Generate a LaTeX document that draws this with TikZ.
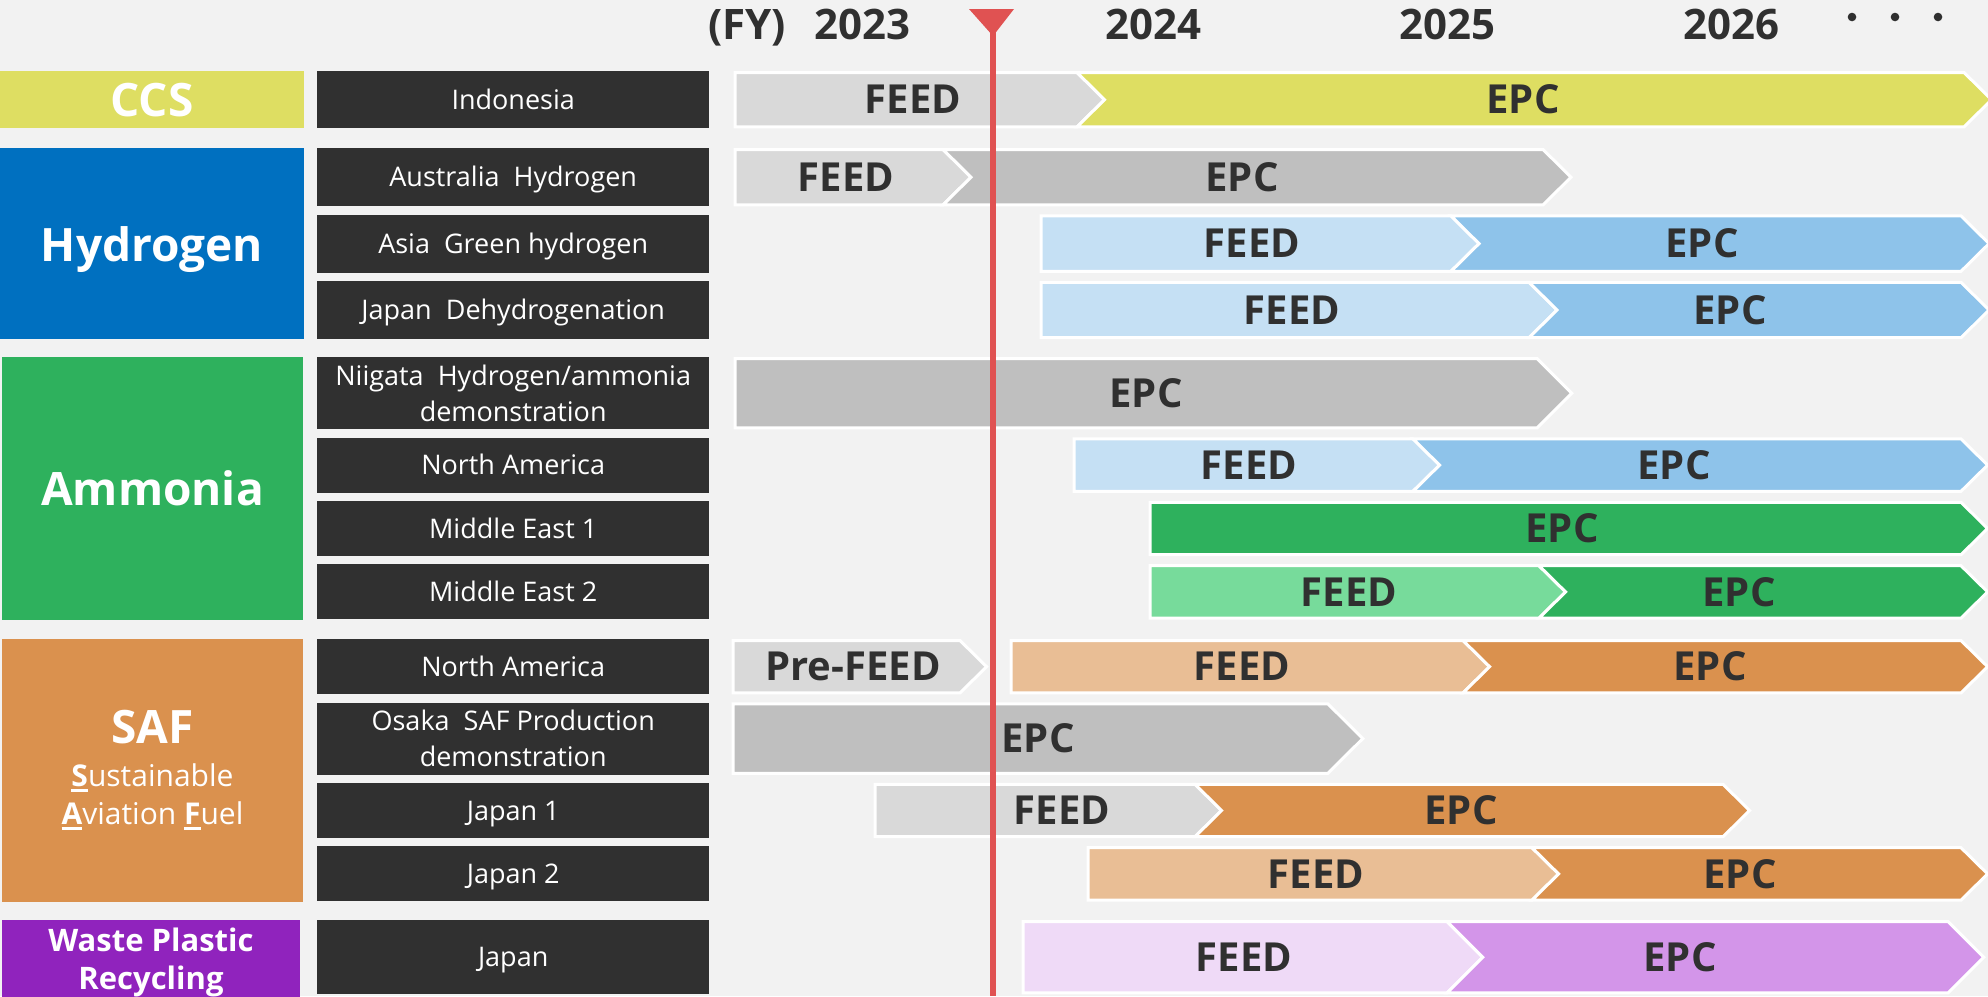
\documentclass[tikz,border=0pt]{standalone}
\usepackage{fontspec}
\setmainfont{Open Sans}
\usepackage{tikz}
\usetikzlibrary{positioning,fit,calc}

\definecolor{bgpanel}{HTML}{F2F2F2}
\definecolor{projgray}{HTML}{303030}
\definecolor{textdark}{HTML}{303030}
\definecolor{ccsyellow}{HTML}{DEDE62}
\definecolor{htwoblue}{HTML}{0070C0}
\definecolor{nhthreegreen}{HTML}{2EB15D}
\definecolor{saforange}{HTML}{DA914E}
\definecolor{wppurple}{HTML}{9023BD}
\definecolor{feedgray}{HTML}{D9D9D9}
\definecolor{epcgray}{HTML}{BFBFBF}
\definecolor{feedblue}{HTML}{C5E0F4}
\definecolor{epcblue}{HTML}{8EC3EA}
\definecolor{feedgreen}{HTML}{77DB9B}
\definecolor{feedorange}{HTML}{E9BE95}
\definecolor{feedpurple}{HTML}{EFDAF7}
\definecolor{epcpurple}{HTML}{D395E9}
\definecolor{markred}{HTML}{E05252}

\tikzset{
  catbox/.style={inner sep=0pt},
  cattext/.style={inner sep=0pt, text=white, align=center, font=\bfseries\fontsize{46}{50}\selectfont},
  projbox/.style={fill=projgray, text=white, inner sep=0pt, minimum width=392pt, font=\fontsize{27}{36}\selectfont, align=center},
  projone/.style={projbox, text height=19pt, text depth=0pt},
  stagebar/.style={draw=white, line width=3pt, line join=miter},
  barlabel/.style={font=\bfseries\fontsize{40}{48}\selectfont, text=textdark, inner sep=0pt},
  yearlabel/.style={font=\bfseries\fontsize{42}{48}\selectfont, text=textdark, anchor=base, inner sep=0pt}
}

% bold, underlined initial
\newsavebox{\ulbox}
\newcommand{\ulletter}[1]{\leavevmode\sbox{\ulbox}{\textbf{#1}}\rlap{\rule[-5pt]{\wd\ulbox}{2.5pt}}\usebox{\ulbox}}

% row, left x, right x, notch (0/1), colour, text, text x, name
\newcommand{\stage}[8]{%
  \path[stagebar, fill=#5] let \p1=(#1.north), \p2=(#1.south), \p3=(#1.center),
      \n1={0.48*(\y1-\y2)} in
    (#2,\y1-1.5pt) -- (#3,\y1-1.5pt) -- ({#3+\n1},\y3) -- (#3,\y2+1.5pt)
    -- (#2,\y2+1.5pt) -- ({#2+#4*\n1},\y3) -- cycle
    (#7,\y3) node[barlabel] (#8) {#6};
}

\begin{document}
\begin{tikzpicture}[x=1pt, y=-1pt]
  \useasboundingbox (0,0) rectangle (1988,996);
  \clip (0,0) rectangle (1988,996);
  \fill[bgpanel] (0,0) rectangle (1988,996);

  % Header
  \node[yearlabel] (fy) at (747,39) {(FY)};
  \node[yearlabel] (y2023) at (862,39) {2023};
  \node[yearlabel] (y2024) at (1153,39) {2024};
  \node[yearlabel] (y2025) at (1447,39) {2025};
  \node[yearlabel] (y2026) at (1731,39) {2026};
  \foreach \dx in {1852,1895,1938}
    \fill[textdark] (\dx,17) circle (4.3pt);

  % Projects
  \node[projone, minimum height=57pt, anchor=north west] (indo) at (317,71) {Indonesia};

  \node[projone, minimum height=58pt, anchor=north west] (aus) at (317,148) {Australia\ \ Hydrogen};
  \node[projone, minimum height=58pt, below=8pt of aus] (asia) {Asia\ \ Green hydrogen};
  \node[projone, minimum height=58pt, below=8pt of asia] (dehyd) {Japan\ \ Dehydrogenation};

  \node[projbox, minimum height=72pt, anchor=north west] (niigata) at (317,357) {Niigata\ \ Hydrogen/ammonia\\demonstration};
  \node[projone, minimum height=55pt, below=8pt of niigata] (amna) {North America};
  \node[projone, minimum height=55pt, below=8pt of amna] (me1) {Middle East 1};
  \node[projone, minimum height=55pt, below=8pt of me1] (me2) {Middle East 2};

  \node[projone, minimum height=55pt, anchor=north west] (safna) at (317,639) {North America};
  \node[projbox, minimum height=72pt, below=8pt of safna] (osaka) {Osaka\ \ SAF Production\\demonstration};
  \node[projone, minimum height=55pt, below=8pt of osaka] (jp1) {Japan 1};
  \node[projone, minimum height=55pt, below=8pt of jp1] (jp2) {Japan 2};

  \node[projone, minimum height=74pt, anchor=north west] (wpjp) at (317,920) {Japan};

  % Categories
  \node[catbox, fill=ccsyellow, fit={(0,0 |- indo.north) (304,0 |- indo.south)}] (ccs) {};
  \node[cattext, text depth=0pt] (ccslabel) at (ccs.center) {CCS};
  \node[catbox, fill=htwoblue, fit={(0,0 |- aus.north) (304,0 |- dehyd.south)}] (htwo) {};
  \node[cattext, text depth=0pt] (htwolabel) at (htwo.center) {Hydrogen};
  \node[catbox, fill=nhthreegreen, fit={(2,0 |- niigata.north) (303,0 |- me2.south)}] (nhthree) {};
  \node[cattext, text depth=0pt] (nhthreelabel) at (nhthree.center) {Ammonia};
  \node[catbox, fill=saforange, fit={(2,0 |- safna.north) (303,0 |- jp2.south)}] (saf) {};
  \node[cattext, font=\fontsize{30}{38}\selectfont] (saflabel) at (saf.center)
        {{\bfseries\fontsize{46}{46}\selectfont SAF}\\[5pt]\ulletter{S}ustainable\\\ulletter{A}viation \ulletter{F}uel};
  \node[catbox, fill=wppurple, fit={(2,0 |- wpjp.north) (300,1004)}] (waste) {};
  \node[cattext, font=\bfseries\fontsize{31}{38}\selectfont] (wastelabel) at (waste.center) {Waste Plastic\\Recycling};

  % Bars
  \stage{indo}{735}{1077}{0}{feedgray}{FEED}{913}{indofeed}
  \stage{indo}{1077}{1964}{1}{ccsyellow}{EPC}{1523}{indoepc}

  \stage{aus}{735}{943}{0}{feedgray}{FEED}{846}{ausfeed}
  \stage{aus}{943}{1543}{1}{epcgray}{EPC}{1242}{ausepc}

  \stage{asia}{1041}{1451}{0}{feedblue}{FEED}{1252}{asiafeed}
  \stage{asia}{1451}{1961}{1}{epcblue}{EPC}{1702}{asiaepc}

  \stage{dehyd}{1041}{1529}{0}{feedblue}{FEED}{1292}{dehydfeed}
  \stage{dehyd}{1529}{1961}{1}{epcblue}{EPC}{1730}{dehydepc}

  \stage{niigata}{735}{1537}{0}{epcgray}{EPC}{1146}{niigataepc}

  \stage{amna}{1074}{1413}{0}{feedblue}{FEED}{1249}{amnafeed}
  \stage{amna}{1413}{1961}{1}{epcblue}{EPC}{1674}{amnaepc}

  \stage{me1}{1150}{1961}{0}{nhthreegreen}{EPC}{1562}{meoneepc}

  \stage{me2}{1150}{1539}{0}{feedgreen}{FEED}{1349}{metwofeed}
  \stage{me2}{1539}{1961}{1}{nhthreegreen}{EPC}{1739}{metwoepc}

  \stage{safna}{733}{960}{0}{feedgray}{Pre-FEED}{853}{safnapre}
  \stage{safna}{1011}{1463}{0}{feedorange}{FEED}{1242}{safnafeed}
  \stage{safna}{1463}{1961}{1}{saforange}{EPC}{1710}{safnaepc}

  \stage{osaka}{733}{1328}{0}{epcgray}{EPC}{1038}{osakaepc}

  \stage{jp1}{875}{1195}{0}{feedgray}{FEED}{1062}{jponefeed}
  \stage{jp1}{1195}{1723}{1}{saforange}{EPC}{1461}{jponeepc}

  \stage{jp2}{1088}{1532}{0}{feedorange}{FEED}{1316}{jptwofeed}
  \stage{jp2}{1532}{1961}{1}{saforange}{EPC}{1740}{jptwoepc}

  \stage{wpjp}{1023}{1447}{0}{feedpurple}{FEED}{1244}{wpfeed}
  \stage{wpjp}{1447}{1948}{1}{epcpurple}{EPC}{1680}{wpepc}

  % Today marker
  \coordinate (today) at (993,30);
  \fill[markred] (969,9) -- (1014,9) -- (993,36) -- cycle;
  \draw[markred, line width=5.5pt] (today) -- (today |- 0,996);
\end{tikzpicture}
\end{document}
